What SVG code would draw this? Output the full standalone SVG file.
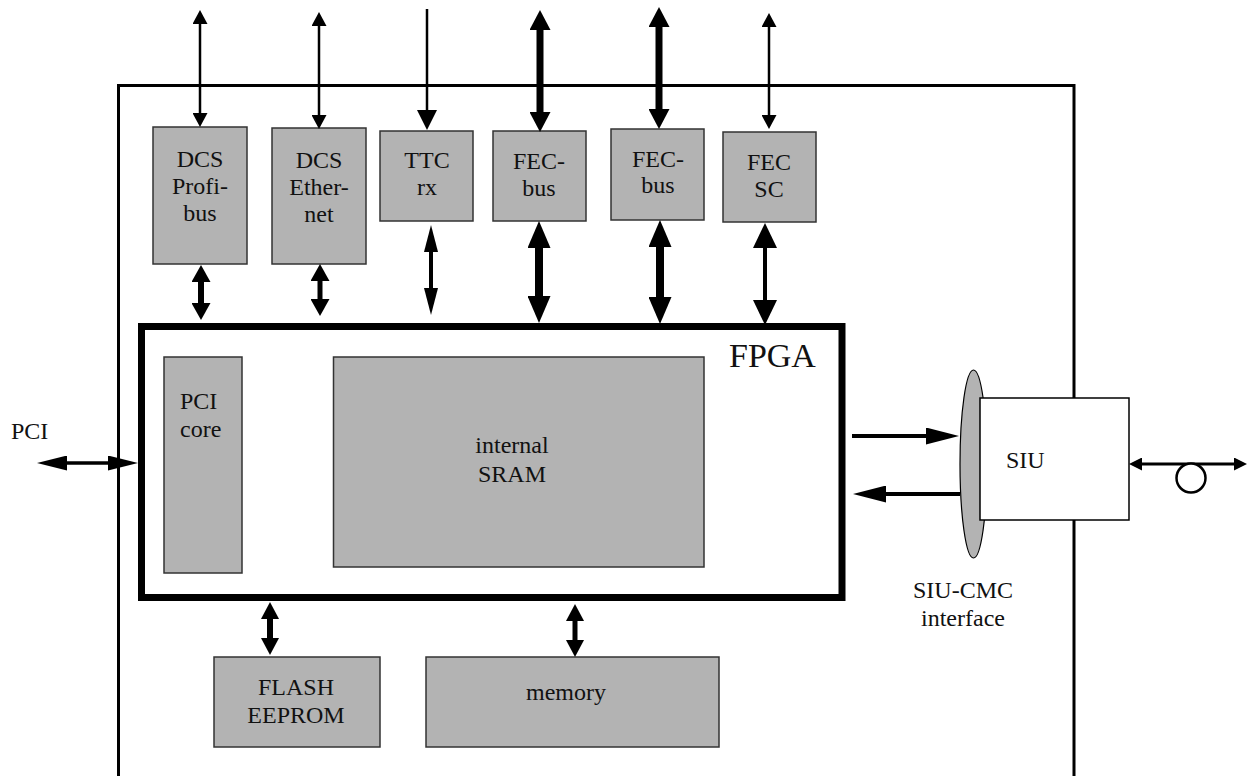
<svg xmlns="http://www.w3.org/2000/svg" width="1247" height="776" viewBox="0 0 1247 776">
<style>
.box{fill:#b3b3b3;stroke:#333;stroke-width:1.5}
.lbl{font-family:"Liberation Serif","Times New Roman",serif;font-size:24px;fill:#111;text-anchor:middle}
.ln{stroke:#000;fill:none}
</style>
<defs>
<marker id="hThin" markerUnits="userSpaceOnUse" markerWidth="14" markerHeight="15" refX="0" refY="7.5" orient="auto-start-reverse"><path d="M0,0 L14,7.5 L0,15 z"/></marker>
<marker id="hTtcTop" markerUnits="userSpaceOnUse" markerWidth="20" markerHeight="20" refX="0" refY="10" orient="auto-start-reverse"><path d="M0,0 L20,10 L0,20 z"/></marker>
<marker id="hFecTop" markerUnits="userSpaceOnUse" markerWidth="20" markerHeight="21" refX="0" refY="10.5" orient="auto-start-reverse"><path d="M0,0 L20,10.5 L0,21 z"/></marker>
<marker id="hMed" markerUnits="userSpaceOnUse" markerWidth="17" markerHeight="19" refX="0" refY="9.5" orient="auto-start-reverse"><path d="M0,0 L17,9.5 L0,19 z"/></marker>
<marker id="hTtc" markerUnits="userSpaceOnUse" markerWidth="27" markerHeight="14" refX="0" refY="7" orient="auto-start-reverse"><path d="M0,0 L27,7 L0,14 z"/></marker>
<marker id="hBig" markerUnits="userSpaceOnUse" markerWidth="27" markerHeight="23" refX="0" refY="11.5" orient="auto-start-reverse"><path d="M0,0 L27,11.5 L0,23 z"/></marker>
<marker id="hSc" markerUnits="userSpaceOnUse" markerWidth="25" markerHeight="24" refX="0" refY="12" orient="auto-start-reverse"><path d="M0,0 L25,12 L0,24 z"/></marker>
<marker id="hPci" markerUnits="userSpaceOnUse" markerWidth="30" markerHeight="15" refX="0" refY="7.5" orient="auto-start-reverse"><path d="M0,0 L30,7.5 L0,15 z"/></marker>
<marker id="hSiu" markerUnits="userSpaceOnUse" markerWidth="33" markerHeight="17" refX="0" refY="8.5" orient="auto-start-reverse"><path d="M0,0 L33,8.5 L0,17 z"/></marker>
<marker id="hFib" markerUnits="userSpaceOnUse" markerWidth="13" markerHeight="13" refX="0" refY="6.5" orient="auto-start-reverse"><path d="M0,0 L13,6.5 L0,13 z"/></marker>
<marker id="hMem" markerUnits="userSpaceOnUse" markerWidth="17" markerHeight="18" refX="0" refY="9" orient="auto-start-reverse"><path d="M0,0 L17,9 L0,18 z"/></marker>
</defs>
<rect width="1247" height="776" fill="#fff"/>

<g id="board">
<path d="M118.5,790 V85.5 H1074 V790" class="ln" stroke-width="3"/>
</g>

<g id="dcs-profibus">
<rect class="box" x="153" y="127" width="94" height="137"/>
<text class="lbl" x="200" y="167">DCS</text>
<text class="lbl" x="200" y="194">Profi-</text>
<text class="lbl" x="200" y="221">bus</text>
</g>
<g id="dcs-ethernet">
<rect class="box" x="272" y="128" width="94" height="136"/>
<text class="lbl" x="319" y="168">DCS</text>
<text class="lbl" x="319" y="195">Ether-</text>
<text class="lbl" x="319" y="222">net</text>
</g>
<g id="ttc-rx">
<rect class="box" x="380" y="131" width="93" height="90"/>
<text class="lbl" x="427" y="168">TTC</text>
<text class="lbl" x="427" y="195">rx</text>
</g>
<g id="fec-bus-1">
<rect class="box" x="493" y="131" width="93" height="90"/>
<text class="lbl" x="539" y="169">FEC-</text>
<text class="lbl" x="539" y="196">bus</text>
</g>
<g id="fec-bus-2">
<rect class="box" x="611" y="129" width="93" height="91"/>
<text class="lbl" x="658" y="167">FEC-</text>
<text class="lbl" x="658" y="193">bus</text>
</g>
<g id="fec-sc">
<rect class="box" x="723" y="132" width="93" height="90"/>
<text class="lbl" x="769" y="170">FEC</text>
<text class="lbl" x="769" y="197">SC</text>
</g>

<g id="fpga">
<rect x="141.5" y="326.5" width="700.5" height="271" fill="#fff" stroke="#000" stroke-width="7"/>
<text x="729" y="367" style="font-family:'Liberation Serif','Times New Roman',serif;font-size:34px;fill:#111">FPGA</text>
</g>
<g id="pci-core">
<rect class="box" x="164" y="357" width="78" height="216"/>
<text class="lbl" x="180" y="409" style="text-anchor:start">PCI</text>
<text class="lbl" x="180" y="437" style="text-anchor:start">core</text>
</g>
<g id="internal-sram">
<rect class="box" x="333.5" y="357" width="370.5" height="210"/>
<text class="lbl" x="512" y="453">internal</text>
<text class="lbl" x="512" y="482">SRAM</text>
</g>

<g id="flash-eeprom">
<rect class="box" x="214" y="657" width="166" height="90"/>
<text class="lbl" x="296" y="695">FLASH</text>
<text class="lbl" x="296" y="723">EEPROM</text>
</g>
<g id="memory">
<rect class="box" x="426" y="657" width="293" height="90"/>
<text class="lbl" x="566" y="700">memory</text>
</g>

<g id="siu-cmc-interface">
<ellipse cx="973.5" cy="464" rx="13.5" ry="94" fill="#b3b3b3" stroke="#000" stroke-width="1.2"/>
<text class="lbl" x="963" y="598">SIU-CMC</text>
<text class="lbl" x="963" y="626">interface</text>
</g>
<g id="siu">
<rect x="980" y="398" width="149" height="122" fill="#fff" stroke="#000" stroke-width="1.5"/>
<text class="lbl" x="1006" y="468" style="text-anchor:start">SIU</text>
</g>

<g id="pci-label">
<text class="lbl" x="11" y="439" style="text-anchor:start">PCI</text>
</g>

<g id="connectors">
<!-- external top -->
<line class="ln" stroke-width="2.5" x1="200" y1="24" x2="200" y2="113" marker-start="url(#hThin)" marker-end="url(#hThin)"/>
<line class="ln" stroke-width="2.5" x1="319" y1="26" x2="319" y2="115" marker-start="url(#hThin)" marker-end="url(#hThin)"/>
<line class="ln" stroke-width="2.5" x1="427" y1="9" x2="427" y2="110" marker-end="url(#hTtcTop)"/>
<line class="ln" stroke-width="7" x1="540" y1="30" x2="540" y2="112" marker-start="url(#hFecTop)" marker-end="url(#hFecTop)"/>
<line class="ln" stroke-width="7" x1="659" y1="27" x2="659" y2="109" marker-start="url(#hFecTop)" marker-end="url(#hFecTop)"/>
<line class="ln" stroke-width="2.5" x1="769" y1="27" x2="769" y2="115" marker-start="url(#hThin)" marker-end="url(#hThin)"/>
<!-- components to FPGA -->
<line class="ln" stroke-width="6" x1="201" y1="282" x2="201" y2="303" marker-start="url(#hMed)" marker-end="url(#hMed)"/>
<line class="ln" stroke-width="5" x1="320" y1="281" x2="320" y2="299" marker-start="url(#hMed)" marker-end="url(#hMed)"/>
<line class="ln" stroke-width="4" x1="431" y1="252" x2="431" y2="288" marker-start="url(#hTtc)" marker-end="url(#hTtc)"/>
<line class="ln" stroke-width="8" x1="539" y1="248" x2="539" y2="296" marker-start="url(#hBig)" marker-end="url(#hBig)"/>
<line class="ln" stroke-width="8" x1="660" y1="247" x2="660" y2="297" marker-start="url(#hBig)" marker-end="url(#hBig)"/>
<line class="ln" stroke-width="4" x1="765" y1="248" x2="765" y2="300" marker-start="url(#hSc)" marker-end="url(#hSc)"/>
<!-- FPGA to bottom -->
<line class="ln" stroke-width="6" x1="270" y1="619" x2="270" y2="638" marker-start="url(#hMem)" marker-end="url(#hMem)"/>
<line class="ln" stroke-width="5" x1="575" y1="621" x2="575" y2="640" marker-start="url(#hMem)" marker-end="url(#hMem)"/>
<!-- PCI -->
<line class="ln" stroke-width="3.5" x1="67" y1="463" x2="108" y2="463" marker-start="url(#hPci)" marker-end="url(#hPci)"/>
<!-- FPGA <-> SIU -->
<line class="ln" stroke-width="4" x1="852" y1="436" x2="926" y2="436" marker-end="url(#hSiu)"/>
<line class="ln" stroke-width="4" x1="960" y1="494" x2="886" y2="494" marker-end="url(#hSiu)"/>
<!-- fibre -->
<line class="ln" stroke-width="3" x1="1142" y1="464" x2="1234" y2="464" marker-start="url(#hFib)" marker-end="url(#hFib)"/>
<circle cx="1191" cy="478" r="14.5" fill="#fff" stroke="#000" stroke-width="2.5"/>
</g>
</svg>
